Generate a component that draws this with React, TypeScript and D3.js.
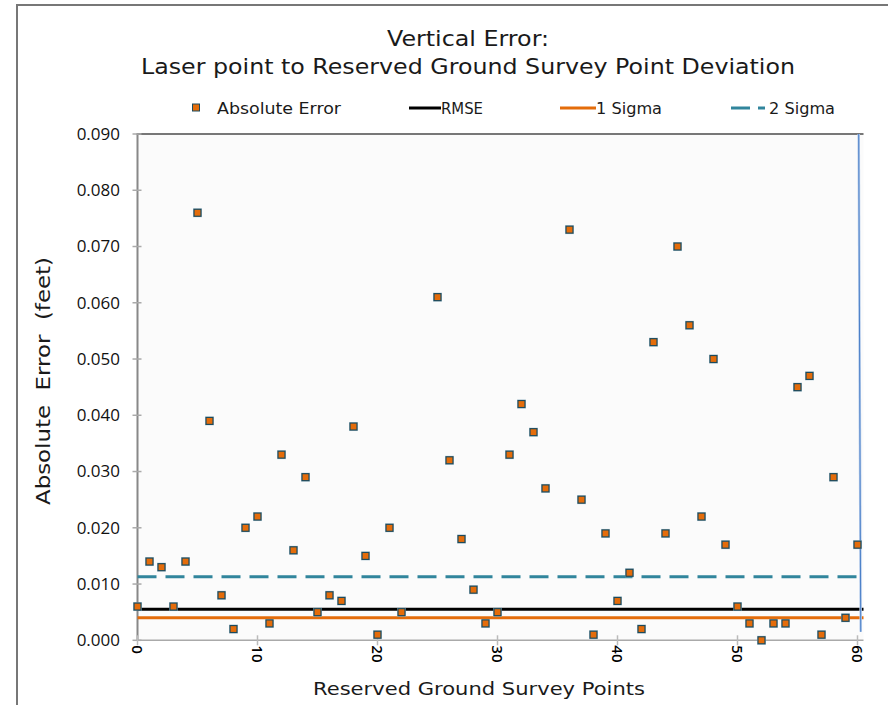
import React from "react";
import * as d3 from "d3";

const pointIds = [0,1,2,3,4,5,6,7,8,9,10,11,12,13,14,15,16,17,18,19,20,21,22,25,26,27,28,29,30,31,32,33,34,36,37,38,39,40,41,42,43,44,45,46,47,48,49,50,51,52,53,54,55,56,57,58,59,60];
const absErrors = [0.006,0.014,0.013,0.006,0.014,0.076,0.039,0.008,0.002,0.020,0.022,0.003,0.033,0.016,0.029,0.005,0.008,0.007,0.038,0.015,0.001,0.020,0.005,0.061,0.032,0.018,0.009,0.003,0.005,0.033,0.042,0.037,0.027,0.073,0.025,0.001,0.019,0.007,0.012,0.002,0.053,0.019,0.070,0.056,0.022,0.050,0.017,0.006,0.003,0.000,0.003,0.003,0.045,0.047,0.001,0.029,0.004,0.017];

const rmseValue = 0.0055;
const sigma1Value = 0.004;
const sigma2Value = 0.0113;

const yTicks = [0, 0.01, 0.02, 0.03, 0.04, 0.05, 0.06, 0.07, 0.08, 0.09];
const xTicks = [0, 10, 20, 30, 40, 50, 60];
const xMax = 60.5;
const yMax = 0.09;
const edgeLineX = [60.1, 60.27];
const edgeLineY = [0.09, 0.0015];

const titleLines = ["Vertical Error:", "Laser point to Reserved Ground Survey Point Deviation"];
const legendItems = ["Absolute Error", "RMSE", "1 Sigma", "2 Sigma"];
const yTitle = "Absolute  Error  (feet)";
const xTitle = "Reserved Ground Survey Points";

const FONT = "'Open Sans', 'Noto Sans', sans-serif";
const WIDE = "'DejaVu Sans', 'Open Sans', sans-serif";
const ORANGE = "#e46c0a";
const TEAL = "#31859c";
const TXT = "#1a1a1a";

export default function App() {
  const left = 137.5, right = 863.5, top = 134, bottom = 640.3;
  const x = d3.scaleLinear().domain([0, xMax]).range([left, right]);
  const y = d3.scaleLinear().domain([0, yMax]).range([bottom, top]);
  const edge = d3.line<number>().x((_, i) => x(edgeLineX[i])).y((d) => y(d));

  const refLine = (v: number, color: string, dash?: string) => (
    <line x1={x(0)} x2={x(xMax)} y1={y(v)} y2={y(v)} stroke={color} strokeWidth={3} strokeDasharray={dash} />
  );

  return (
    <svg width={888} height={705} style={{ position: "absolute", left: 0, top: 0, background: "#fff" }} fontFamily={FONT}>
      <rect x={0} y={0} width={888} height={705} fill="#fff" />
      {/* outer frame */}
      <line x1={17} x2={888} y1={5} y2={5} stroke="#777" strokeWidth={2} />
      <line x1={17} x2={17} y1={4} y2={705} stroke="#777" strokeWidth={2} />

      {/* title */}
      <g fontFamily={WIDE} fill={TXT}>
        <text x={387} y={46} fontSize={22} textLength={162} lengthAdjust="spacingAndGlyphs">{titleLines[0]}</text>
        <text x={141} y={74} fontSize={22} textLength={654} lengthAdjust="spacingAndGlyphs">{titleLines[1]}</text>
      </g>

      {/* legend */}
      <g fontSize={16} fill={TXT} fontFamily={WIDE}>
        <rect x={192.5} y={104} width={7} height={7} fill={ORANGE} stroke="#1d4a5c" strokeWidth={1} />
        <text x={217} y={114} textLength={124} lengthAdjust="spacingAndGlyphs">{legendItems[0]}</text>
        <line x1={409} x2={441} y1={108} y2={108} stroke="#000" strokeWidth={3} />
        <text x={441} y={114} textLength={42} lengthAdjust="spacingAndGlyphs">{legendItems[1]}</text>
        <line x1={560} x2={596} y1={108} y2={108} stroke={ORANGE} strokeWidth={3} />
        <text x={596} y={114} textLength={66} lengthAdjust="spacingAndGlyphs">{legendItems[2]}</text>
        <line x1={731} x2={750} y1={108} y2={108} stroke={TEAL} strokeWidth={3} />
        <line x1={758} x2={765} y1={108} y2={108} stroke={TEAL} strokeWidth={3} />
        <text x={769} y={114} textLength={66} lengthAdjust="spacingAndGlyphs">{legendItems[3]}</text>
      </g>

      {/* plot background */}
      <rect x={left} y={top} width={right - left} height={bottom - top} fill="#fbfbfb" />
      <line x1={left - 1} x2={right} y1={top} y2={top} stroke="#777" strokeWidth={2} />

      {/* y axis */}
      <line x1={left} x2={left} y1={top} y2={bottom} stroke="#888" strokeWidth={2} />
      {yTicks.map((t) => (
        <g key={t}>
          <line x1={left - 5} x2={left + 4} y1={y(t)} y2={y(t)} stroke="#aaa" strokeWidth={1.5} />
          <text x={120} y={y(t)} dy="0.35em" textAnchor="end" fontSize={17} fill="#111">{d3.format(".3f")(t)}</text>
        </g>
      ))}

      {/* x axis */}
      <line x1={left} x2={right} y1={bottom} y2={bottom} stroke="#aaa" strokeWidth={1.5} />
      {xTicks.map((t) => (
        <g key={t}>
          <line x1={x(t)} x2={x(t)} y1={bottom - 5} y2={bottom + 5} stroke="#bbb" strokeWidth={1.5} />
          <text transform={`translate(${x(t)},${bottom + 5}) rotate(90)`} dy="0.35em" textAnchor="start" fontSize={15} fontWeight={600} fill="#000">{t}</text>
        </g>
      ))}

      {/* reference lines */}
      {refLine(sigma2Value, TEAL, "19 9")}
      {refLine(rmseValue, "#000")}
      {refLine(sigma1Value, ORANGE)}

      {/* edge line */}
      <path d={edge(edgeLineY) || ""} stroke="#b6cceb" strokeWidth={2.5} fill="none" />
      <path d={edge(edgeLineY) || ""} stroke="#4a7fc8" strokeWidth={1} fill="none" />

      {/* points */}
      {pointIds.map((id, i) => (
        <g key={id}>
          <rect x={x(id) - 4.5} y={y(absErrors[i]) - 4.5} width={9} height={9} fill="#9fc0cf" opacity={0.7} />
          <rect x={x(id) - 3.5} y={y(absErrors[i]) - 3.5} width={7} height={7} fill={ORANGE} stroke="#1d4a5c" strokeWidth={1.2} />
        </g>
      ))}

      {/* axis titles */}
      <g fontFamily={WIDE} fill={TXT}>
        <text transform={`translate(50,505) rotate(-90)`} fontSize={19} style={{ whiteSpace: "pre" }} textLength={248} lengthAdjust="spacingAndGlyphs">{yTitle}</text>
        <text x={313} y={695} fontSize={18.5} textLength={332} lengthAdjust="spacingAndGlyphs">{xTitle}</text>
      </g>
    </svg>
  );
}
